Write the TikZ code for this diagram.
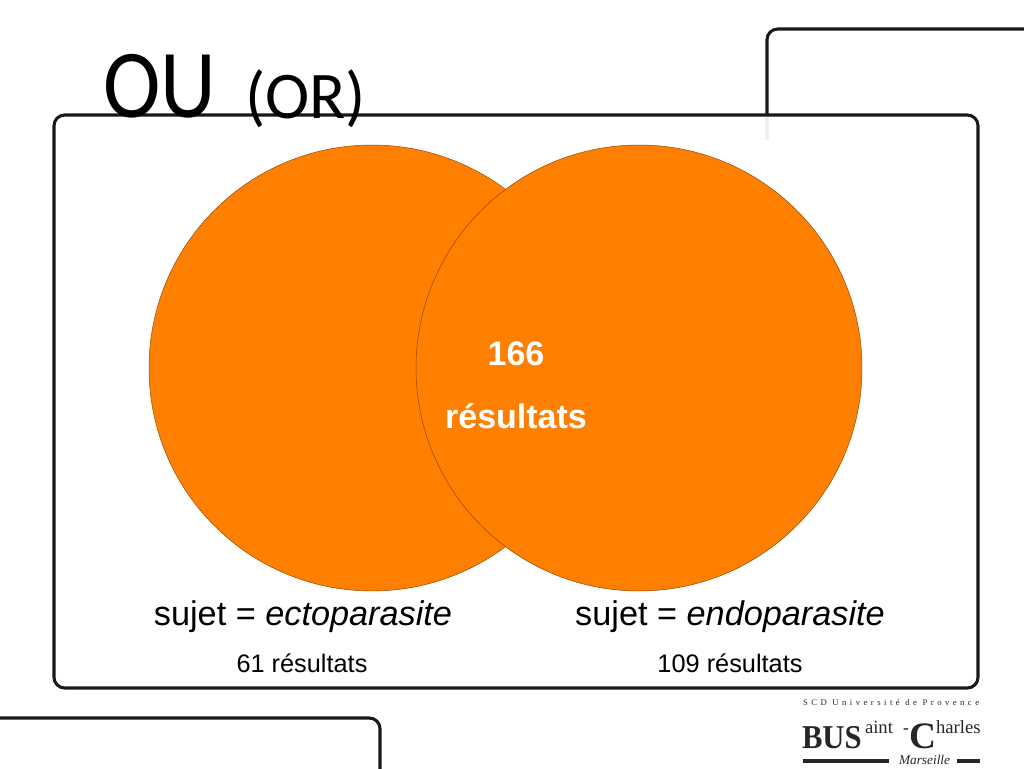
\documentclass[tikz,border=0pt]{standalone}
\usepackage{fontspec}
\usepackage{xcolor}
\setmainfont{Liberation Sans}
\newfontfamily\titlefont[FakeStretch=0.89]{Carlito}
\newfontfamily\subtitlefont{Carlito}
\newfontfamily\logofont{Liberation Serif}
\newfontfamily\busfont[FakeStretch=0.92]{Liberation Serif}
\newfontfamily\scdfont[LetterSpace=40]{Liberation Serif}
\definecolor{vennorange}{HTML}{FF7F00}
\tikzset{
    framestroke/.style={draw=black!90, line width=2.3pt, rounded corners=8pt},
    venncircle/.style={fill=vennorange, draw=black!45!vennorange, line width=0.35pt},
    plain/.style={inner sep=0pt, outer sep=0pt},
    logotext/.style={plain, anchor=base west, text=black!85}
}
\begin{document}
\begin{tikzpicture}[x=0.75pt, y=-0.75pt]
        \useasboundingbox (0,0) rectangle (1024,768);
        % background strokes
        \draw[black!6, line width=2.5pt] (767,116) -- (767,140);
        \draw[framestroke] (767,115) -- (767,29) -- (1030,29);
        \draw[framestroke] (-6,718) -- (380,718) -- (380,774);
        \draw[framestroke] (54,115) rectangle (978,688);
        % venn
        \path[venncircle] (372,368) circle (223);
        \path[venncircle] (639,368) circle (223);
        % title
        \node[plain, anchor=base west, font=\titlefont\fontsize{73}{73}\selectfont] (titleou) at (103,117) {OU};
        \node[plain, anchor=base west, font=\subtitlefont\fontsize{50}{50}\selectfont] (titleor) at (245,118) {(OR)};
        % labels
        \node[font=\bfseries\fontsize{25.5}{25.5}\selectfont, text=white] (count) at (516,354) {166};
        \node[font=\bfseries\fontsize{25.5}{25.5}\selectfont, text=white] (countword) at (516,416) {résultats};
        \node[font=\fontsize{25.7}{25.7}\selectfont] (ecto) at (303,617) {sujet = \textit{ectoparasite}};
        \node[font=\fontsize{25.7}{25.7}\selectfont] (endo) at (730,617) {sujet = \textit{endoparasite}};
        \node[font=\fontsize{19}{19}\selectfont] (ectocount) at (302,663) {61 résultats};
        \node[font=\fontsize{19}{19}\selectfont] (endocount) at (730,663) {109 résultats};
        % logo
        \node[logotext, font=\scdfont\fontsize{6.5}{6.5}\selectfont] (scd) at (803,705) {SCD Université de Provence};
        \node[logotext, font=\busfont\bfseries\fontsize{25}{25}\selectfont] (bus) at (802,748) {BUS};
        \node[logotext, font=\logofont\fontsize{14}{14}\selectfont] (aint) at (865,733) {aint};
        \node[logotext, font=\logofont\bfseries\fontsize{13}{13}\selectfont] (dash) at (903,733) {-};
        \node[logotext, font=\logofont\bfseries\fontsize{28}{28}\selectfont] (bigc) at (909,748) {C};
        \node[logotext, font=\logofont\fontsize{14}{14}\selectfont] (harles) at (936,733) {harles};
        \node[logotext, font=\logofont\itshape\fontsize{10}{10}\selectfont] (marseille) at (899,764) {Marseille};
        \fill[black!85] (803,759) rectangle (889,763);
        \fill[black!85] (957,759) rectangle (980,763);
    \end{tikzpicture}
\end{document}
